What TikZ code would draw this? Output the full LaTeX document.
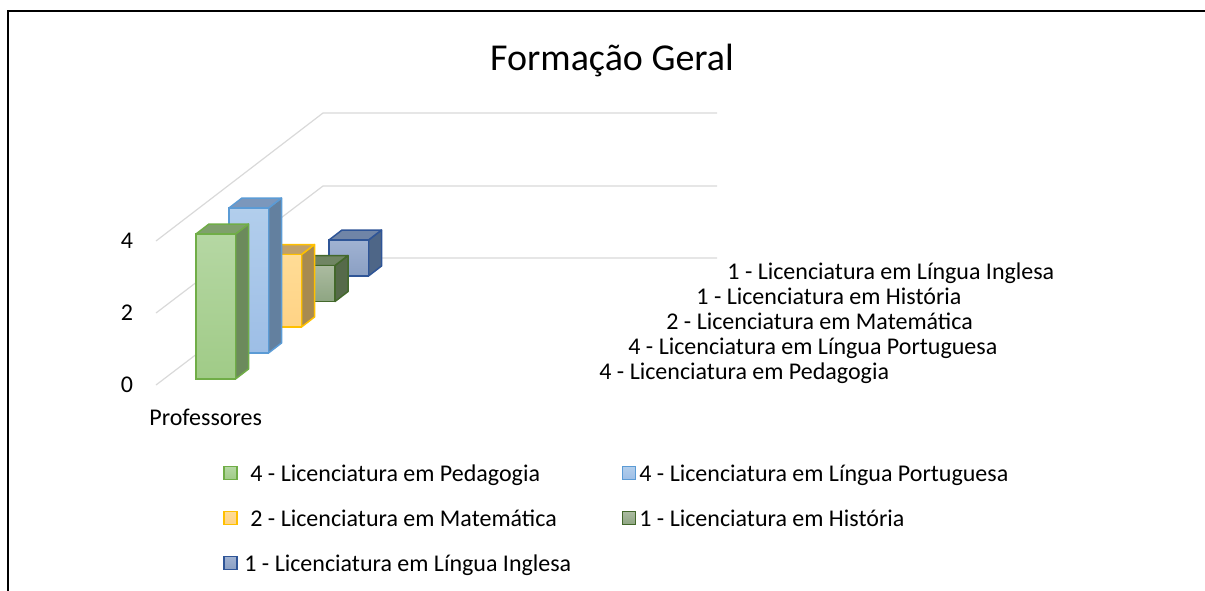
\documentclass[tikz,border=0pt]{standalone}
\usepackage{fontspec}
\setmainfont{Carlito}
\definecolor{grid}{HTML}{D9D9D9}
\definecolor{pedA}{HTML}{B5D7A3}\definecolor{pedB}{HTML}{A0CB87}\definecolor{pedS}{HTML}{6C8A5C}\definecolor{pedT}{HTML}{7FA06C}\definecolor{pedL}{HTML}{70AD47}
\definecolor{porA}{HTML}{B2CEEC}\definecolor{porB}{HTML}{9DBEE6}\definecolor{porS}{HTML}{63809F}\definecolor{porT}{HTML}{7B97BC}\definecolor{porL}{HTML}{5B9BD5}
\definecolor{matA}{HTML}{FFDC96}\definecolor{matB}{HTML}{FFD385}\definecolor{matS}{HTML}{A88A50}\definecolor{matT}{HTML}{C0A06A}\definecolor{matL}{HTML}{FFC000}
\definecolor{hisA}{HTML}{ABBBA0}\definecolor{hisB}{HTML}{8EA582}\definecolor{hisS}{HTML}{566A4A}\definecolor{hisT}{HTML}{708563}\definecolor{hisL}{HTML}{43682B}
\definecolor{ingA}{HTML}{A0B2D2}\definecolor{ingB}{HTML}{8A9FC3}\definecolor{ingS}{HTML}{4E6687}\definecolor{ingT}{HTML}{7085A7}\definecolor{ingL}{HTML}{2F5597}
% 3D bar: x, y of front bottom left, height, colour prefix
\newcommand{\cuboid}[4]{%
\filldraw[fill=#4S, draw=#4L, line width=0.75pt, line join=round] (#1,#2) ++(39.5,0) -- ++(13,-10) -- ++(0,-#3) -- ++(-13,10) -- cycle;
\filldraw[fill=#4T, draw=#4L, line width=0.75pt, line join=round] (#1,#2) ++(0,-#3) -- ++(13,-10) -- ++(39.5,0) -- ++(-13,10) -- cycle;
\shade[top color=#4A, bottom color=#4B] (#1,#2) rectangle ++(39.5,-#3);
\draw[#4L, line width=0.75pt] (#1,#2) rectangle ++(39.5,-#3);}
\tikzset{legbox/.style={minimum size=6.5pt, inner sep=0pt, line width=0.75pt}}
\begin{document}
\begin{tikzpicture}[x=0.5pt,y=-0.5pt,font=\fontsize{12}{14}\selectfont]
\useasboundingbox (0,0) rectangle (1205,590);
\draw[line width=1.2pt] (8,620) -- (8,11) -- (1240,11);
\node [anchor=base](t) at(612,70) {\fontsize{19}{22}\selectfont Formação Geral};
% grid
\draw[grid, line width=0.6pt] (156,241) -- (323,113) -- (717,113);
\draw[grid, line width=0.6pt] (156,313) -- (323,186) -- (717,186);
\draw[grid, line width=0.6pt] (156,385) -- (323,258) -- (717,258);
\node (a) at(127,241) {4};
\node (b) at(127,313) {2};
\node (c) at(127,385) {0};
\node [anchor=base west, inner sep=0pt](p) at(149,425) {Professores};
% bars, back to front
\cuboid{329}{276}{36}{ing}
\cuboid{295.5}{301.5}{36}{his}
\cuboid{262}{327}{72.5}{mat}
\cuboid{229}{353}{145}{por}
\cuboid{196}{379}{145}{ped}
% data labels
\node [anchor=base west, inner sep=0pt](d1) at(727,279) {1 - Licenciatura em Língua Inglesa};
\node [anchor=base west, inner sep=0pt](d2) at(696,304) {1 - Licenciatura em História};
\node [anchor=base west, inner sep=0pt](d3) at(666,329) {2 - Licenciatura em Matemática};
\node [anchor=base west, inner sep=0pt](d4) at(628,354) {4 - Licenciatura em Língua Portuguesa};
\node [anchor=base west, inner sep=0pt](d5) at(599,379) {4 - Licenciatura em Pedagogia};
% legend
\node [legbox, top color=pedA, bottom color=pedB, draw=pedL](k1) at(230.5,473) {};
\node [legbox, top color=porA, bottom color=porB, draw=porL](k2) at(629,473) {};
\node [legbox, top color=matA, bottom color=matB, draw=matL](k3) at(230.5,518) {};
\node [legbox, top color=hisA, bottom color=hisB, draw=hisL](k4) at(629,518) {};
\node [legbox, top color=ingA, bottom color=ingB, draw=ingL](k5) at(230.5,563) {};
\node [anchor=base west, inner sep=0pt](e1) at(250,481) {4 - Licenciatura em Pedagogia};
\node [anchor=base west, inner sep=0pt](e2) at(639,481) {4 - Licenciatura em Língua Portuguesa};
\node [anchor=base west, inner sep=0pt](e3) at(250,526) {2 - Licenciatura em Matemática};
\node [anchor=base west, inner sep=0pt](e4) at(639,526) {1 - Licenciatura em História};
\node [anchor=base west, inner sep=0pt](e5) at(244,571) {1 - Licenciatura em Língua Inglesa};
\end{tikzpicture}
\end{document}
